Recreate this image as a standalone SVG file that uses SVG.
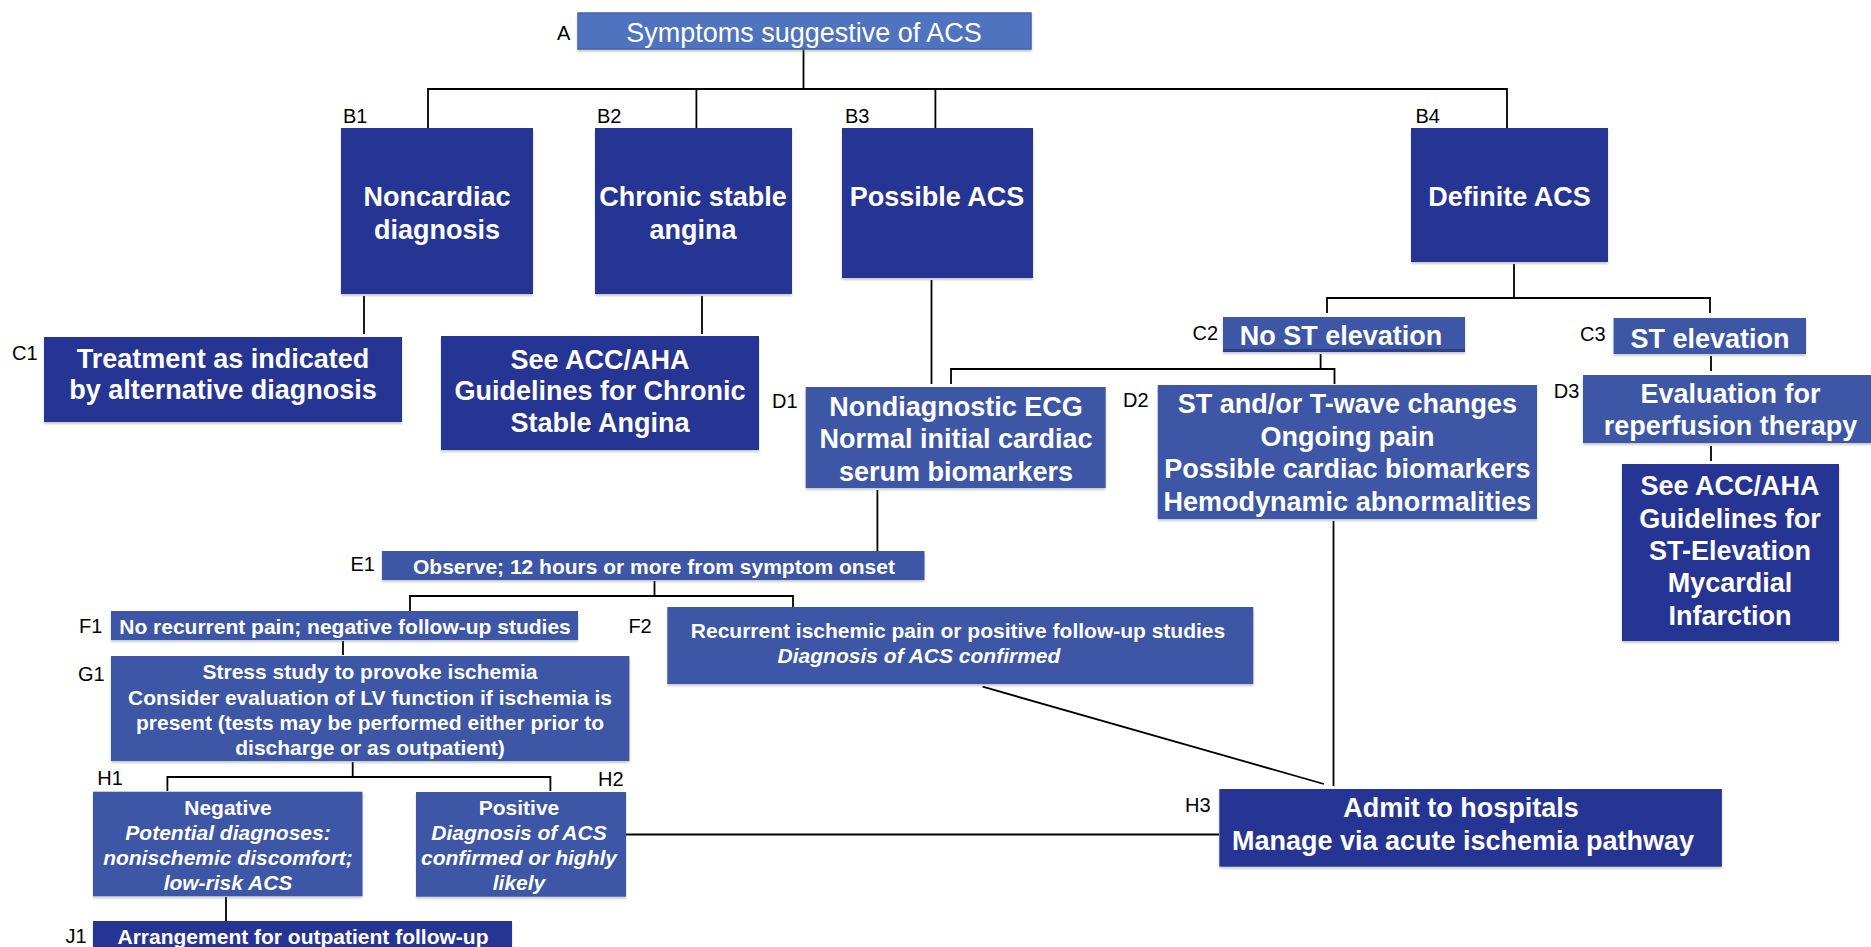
<svg xmlns="http://www.w3.org/2000/svg" width="1871" height="947" viewBox="0 0 1871 947">
<defs>
<filter id="sh" x="-5%" y="-5%" width="110%" height="120%">
<feDropShadow dx="0" dy="2" stdDeviation="1" flood-color="#888" flood-opacity="0.45"/>
</filter>
<style>
.dk{fill:#283593;filter:url(#sh)}
.md{fill:#3d57a6;filter:url(#sh)}
.lt{fill:#4f73be;stroke:#4563ad;stroke-width:1.5;filter:url(#sh)}
text{font-family:"Liberation Sans",Arial,sans-serif}
.t27{font-size:27px;font-weight:bold;fill:#fff;text-anchor:middle}
.t27r{font-size:27px;fill:#fff;text-anchor:middle}
.t21{font-size:21px;font-weight:bold;fill:#fff;text-anchor:middle}
.it{font-style:italic}
.lb{font-size:20px;fill:#000}
.cn{fill:none;stroke:#000;stroke-width:1.8}
</style>
</defs>
<rect width="1871" height="947" fill="#fff"/>
<g id="connectors">
<path class="cn" d="M803.5,49 V89"/>
<path class="cn" d="M428,128 V89 H1507 V128"/>
<path class="cn" d="M696.4,89 V128"/>
<path class="cn" d="M935.4,89 V128"/>
<path class="cn" d="M364,296 V334"/>
<path class="cn" d="M702,296 V334"/>
<path class="cn" d="M931.5,280 V384"/>
<path class="cn" d="M1514,264 V298"/>
<path class="cn" d="M1327,313 V298 H1710 V313"/>
<path class="cn" d="M1711,356 V371"/>
<path class="cn" d="M1711,446 V461"/>
<path class="cn" d="M1320.6,354 V369"/>
<path class="cn" d="M951,384 V369 H1334.5 V384"/>
<path class="cn" d="M1333.5,521 V786"/>
<path class="cn" d="M877.4,490 V551"/>
<path class="cn" d="M654.5,581 V596"/>
<path class="cn" d="M410,611 V596 H793 V612"/>
<path class="cn" d="M343,641 V655"/>
<path class="cn" d="M352.7,762 V777"/>
<path class="cn" d="M167.4,791 V777 H550.4 V791"/>
<path class="cn" d="M626,834.5 H1219"/>
<path class="cn" d="M982.6,686.7 L1323.9,784"/>
<path class="cn" d="M226,897 V921"/>
</g>
<g id="A">
<rect class="lt" x="578" y="13" width="453" height="36"/>
<text class="t27r" x="804" y="41.5">Symptoms suggestive of ACS</text>
<text class="lb" x="557" y="40">A</text>
</g>
<g id="B1">
<rect class="dk" x="341" y="128" width="192" height="166"/>
<text class="t27" x="437" y="205.5">Noncardiac</text>
<text class="t27" x="437" y="238.5">diagnosis</text>
<text class="lb" x="343" y="122.7">B1</text>
</g>
<g id="B2">
<rect class="dk" x="595" y="128" width="197" height="166"/>
<text class="t27" x="693" y="205.5">Chronic stable</text>
<text class="t27" x="693" y="238.5">angina</text>
<text class="lb" x="597" y="122.7">B2</text>
</g>
<g id="B3">
<rect class="dk" x="842" y="128" width="191" height="150"/>
<text class="t27" x="937" y="205.5">Possible ACS</text>
<text class="lb" x="845" y="122.7">B3</text>
</g>
<g id="B4">
<rect class="dk" x="1411" y="128" width="197" height="134"/>
<text class="t27" x="1509.5" y="205.5">Definite ACS</text>
<text class="lb" x="1415.5" y="122.7">B4</text>
</g>
<g id="C1">
<rect class="dk" x="44" y="337" width="358" height="85"/>
<text class="t27" x="223" y="367.5">Treatment as indicated</text>
<text class="t27" x="223" y="398.7">by alternative diagnosis</text>
<text class="lb" x="12" y="360">C1</text>
</g>
<g id="C1b">
<rect class="dk" x="441" y="336" width="318" height="114"/>
<text class="t27" x="600" y="369">See ACC/AHA</text>
<text class="t27" x="600" y="400">Guidelines for Chronic</text>
<text class="t27" x="600" y="431.5">Stable Angina</text>
</g>
<g id="C2">
<rect class="md" x="1223" y="317" width="242" height="35"/>
<rect x="1223" y="349" width="242" height="3" fill="#2c4088"/>
<text class="t27" x="1341" y="345">No ST elevation</text>
<text class="lb" x="1192.6" y="340">C2</text>
</g>
<g id="C3">
<rect class="md" x="1613.6" y="318" width="192.4" height="36"/>
<text class="t27" x="1710" y="347.7">ST elevation</text>
<text class="lb" x="1580" y="340.7">C3</text>
</g>
<g id="D1">
<rect class="md" x="805.7" y="387" width="300" height="101"/>
<text class="t27" x="956" y="416">Nondiagnostic ECG</text>
<text class="t27" x="956" y="448.3">Normal initial cardiac</text>
<text class="t27" x="956" y="480.5">serum biomarkers</text>
<text class="lb" x="772" y="408.3">D1</text>
</g>
<g id="D2">
<rect class="md" x="1157.8" y="385" width="379.2" height="134"/>
<text class="t27" x="1347.4" y="413.3">ST and/or T-wave changes</text>
<text class="t27" x="1347.4" y="445.7">Ongoing pain</text>
<text class="t27" x="1347.4" y="478.3">Possible cardiac biomarkers</text>
<text class="t27" x="1347.4" y="510.5">Hemodynamic abnormalities</text>
<text class="lb" x="1123" y="406.7">D2</text>
</g>
<g id="D3">
<rect class="md" x="1583" y="375" width="295" height="68"/>
<text class="t27" x="1730.5" y="402.7">Evaluation for</text>
<text class="t27" x="1730.5" y="435">reperfusion therapy</text>
<text class="lb" x="1553.7" y="398.3">D3</text>
</g>
<g id="D3b">
<rect class="dk" x="1622" y="464" width="217" height="177"/>
<text class="t27" x="1730" y="495">See ACC/AHA</text>
<text class="t27" x="1730" y="527.5">Guidelines for</text>
<text class="t27" x="1730" y="560">ST-Elevation</text>
<text class="t27" x="1730" y="592">Mycardial</text>
<text class="t27" x="1730" y="624.5">Infarction</text>
</g>
<g id="E1">
<rect class="md" x="382" y="551" width="542.5" height="29"/>
<text class="t21" x="654" y="574">Observe; 12 hours or more from symptom onset</text>
<text class="lb" x="350.5" y="570.7">E1</text>
</g>
<g id="F1">
<rect class="md" x="111" y="611" width="467" height="29"/>
<text class="t21" x="345" y="634">No recurrent pain; negative follow-up studies</text>
<text class="lb" x="79" y="633.3">F1</text>
</g>
<g id="F2">
<rect class="md" x="667.3" y="607" width="586" height="77"/>
<text class="t21" x="958" y="638.3">Recurrent ischemic pain or positive follow-up studies</text>
<text class="t21 it" x="919" y="663.3">Diagnosis of ACS confirmed</text>
<text class="lb" x="628.4" y="633.3">F2</text>
</g>
<g id="G1">
<rect class="md" x="111" y="656" width="518.4" height="105"/>
<text class="t21" x="370" y="679.3">Stress study to provoke ischemia</text>
<text class="t21" x="370" y="704.5">Consider evaluation of LV function if ischemia is</text>
<text class="t21" x="370" y="729.7">present (tests may be performed either prior to</text>
<text class="t21" x="370" y="755">discharge or as outpatient)</text>
<text class="lb" x="78" y="680.7">G1</text>
</g>
<g id="H1">
<rect class="md" x="93" y="791.7" width="269.5" height="104.5"/>
<text class="t21" x="228" y="815">Negative</text>
<text class="t21 it" x="228" y="840">Potential diagnoses:</text>
<text class="t21 it" x="228" y="865">nonischemic discomfort;</text>
<text class="t21 it" x="228" y="890">low-risk ACS</text>
<text class="lb" x="97.3" y="785">H1</text>
</g>
<g id="H2">
<rect class="md" x="416" y="792" width="210" height="104.7"/>
<text class="t21" x="519" y="815">Positive</text>
<text class="t21 it" x="519" y="840">Diagnosis of ACS</text>
<text class="t21 it" x="519" y="865">confirmed or highly</text>
<text class="t21 it" x="519" y="890">likely</text>
<text class="lb" x="598" y="786">H2</text>
</g>
<g id="H3">
<rect class="dk" x="1219.3" y="789" width="502.6" height="77.7"/>
<text class="t27" x="1461" y="817.3">Admit to hospitals</text>
<text class="t27" x="1463" y="850">Manage via acute ischemia pathway</text>
<text class="lb" x="1185" y="812.3">H3</text>
</g>
<g id="J1">
<rect class="dk" x="93" y="921" width="419" height="30"/>
<text class="t21" x="303" y="944.3">Arrangement for outpatient follow-up</text>
<text class="lb" x="65.6" y="942.7">J1</text>
</g>
</svg>
